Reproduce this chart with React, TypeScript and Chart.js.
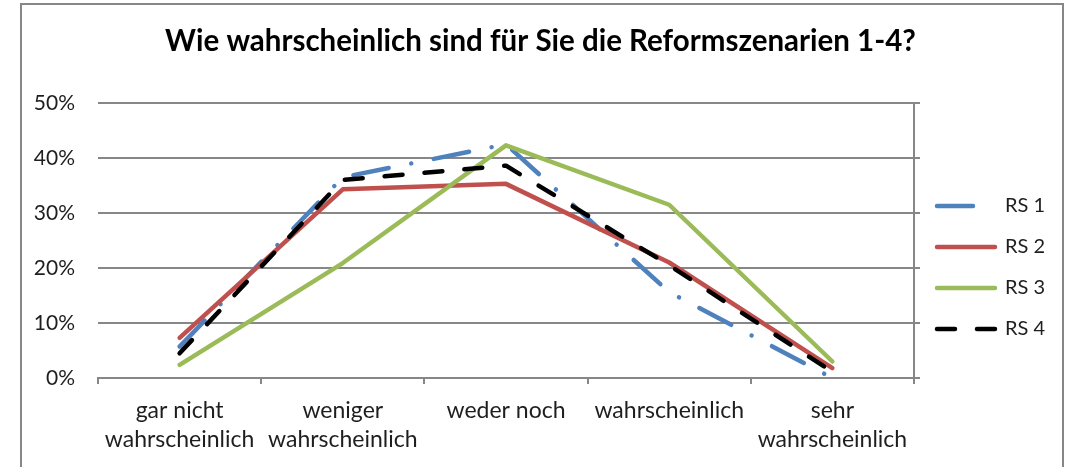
import React, { useEffect, useRef } from 'react';
import { Chart, registerables } from 'chart.js';

Chart.register(...registerables);

// ---- data ----
const categories: string[][] = [
  ['gar nicht', 'wahrscheinlich'],
  ['weniger', 'wahrscheinlich'],
  ['weder noch'],
  ['wahrscheinlich'],
  ['sehr', 'wahrscheinlich'],
];
const seriesNames = ['RS 1', 'RS 2', 'RS 3', 'RS 4'];
const rs1 = [0.057, 0.365, 0.425, 0.156, 0.0];
const rs2 = [0.073, 0.343, 0.353, 0.21, 0.018];
const rs3 = [0.024, 0.209, 0.423, 0.315, 0.03];
const rs4 = [0.045, 0.36, 0.386, 0.205, 0.011];
const yTickLabels = ['0%', '10%', '20%', '30%', '40%', '50%'];
const titleText = 'Wie wahrscheinlich sind für Sie die Reformszenarien 1-4?';

// ---- layout / style ----
const W = 1069;
const H = 467;
const PLOT_LEFT = 98;
const PLOT_RIGHT = 914;
const PLOT_BOTTOM = 378;
const GRID = '#878787';
const TEXT = '#1e1e1e';
const FONT = 'Lato, "Open Sans", sans-serif';

const seriesColors = ['#4F81BD', '#C0504D', '#9BBB59', '#000000'];
const seriesDash: number[][] = [[36, 23, 0.01, 23], [], [], [18, 22]];
const seriesOrder = [3, 2, 1, 0];

const placeBlocks = {
  id: 'placeBlocks',
  afterLayout(chart: any) {
    const lg = chart.legend;
    if (lg) {
      const w = lg.width;
      lg.left = 916;
      lg.right = 916 + w;
      lg.top = 175;
      lg.bottom = 175 + 200;
    }
    const tb = chart.titleBlock;
    if (tb) {
      tb.left += 6;
      tb.right += 6;
    }
  },
};

export default function App() {
  const ref = useRef<HTMLCanvasElement | null>(null);

  useEffect(() => {
    if (!ref.current) return;
    Chart.defaults.font.family = FONT;
    const values = [rs1, rs2, rs3, rs4];
    const chart = new Chart(ref.current, {
      type: 'line',
      data: {
        labels: categories,
        datasets: seriesNames.map((name, i) => ({
          label: name,
          data: values[i],
          borderColor: seriesColors[i],
          backgroundColor: seriesColors[i],
          borderWidth: 4.5,
          borderDash: seriesDash[i],
          borderCapStyle: 'round',
          borderJoinStyle: 'round',
          pointRadius: 0,
          pointHoverRadius: 0,
          tension: 0,
          fill: false,
          order: seriesOrder[i],
        })),
      },
      plugins: [placeBlocks],
      options: {
        animation: false,
        responsive: false,
        devicePixelRatio: 1,
        layout: { padding: 0 },
        plugins: {
          tooltip: { enabled: false },
          title: {
            display: true,
            text: titleText,
            color: '#000',
            font: { family: FONT, size: 29.5, weight: 'bold', lineHeight: 1.2 },
            padding: { top: 24, bottom: 43.6 },
          },
          legend: {
            display: true,
            position: 'right',
            align: 'start',
            labels: {
              color: TEXT,
              font: { family: FONT, size: 20 },
              usePointStyle: true,
              pointStyle: 'line',
              pointStyleWidth: 58,
              padding: 21,
              sort: (a: any, b: any) => a.datasetIndex - b.datasetIndex,
              generateLabels: (chart: any) => {
                const base = (Chart.defaults.plugins.legend.labels as any).generateLabels(chart);
                return base.map((item: any) => {
                  const i = item.datasetIndex;
                  return {
                    ...item,
                    pointStyle: 'line',
                    strokeStyle: seriesColors[i],
                    fillStyle: seriesColors[i],
                    lineWidth: 4.5,
                    lineDash: seriesDash[i],
                    lineCap: 'round',
                  };
                });
              },
            },
          },
        },
        scales: {
          x: {
            type: 'category',
            offset: true,
            grid: {
              offset: true,
              drawOnChartArea: false,
              drawTicks: true,
              tickLength: 6,
              color: GRID,
              lineWidth: 2,
            },
            border: { display: true, color: GRID, width: 2 },
            ticks: {
              color: TEXT,
              font: { family: FONT, size: 23, lineHeight: '29px' },
              padding: 12.5,
              maxRotation: 0,
              autoSkip: false,
            },
            afterFit: (s: any) => {
              s.height = H - PLOT_BOTTOM;
            },
          },
          y: {
            type: 'linear',
            min: 0,
            max: 0.5,
            ticks: {
              stepSize: 0.1,
              color: TEXT,
              font: { family: FONT, size: 21 },
              padding: 23,
              callback: (_v: any, i: number) => yTickLabels[i],
            },
            grid: { color: GRID, lineWidth: 2, drawTicks: false },
            border: { display: false },
            afterFit: (s: any) => {
              s.width = PLOT_LEFT;
            },
          },
          y2: {
            type: 'linear',
            position: 'right',
            min: 0,
            max: 0.5,
            ticks: { stepSize: 0.1, display: false },
            grid: {
              drawOnChartArea: false,
              drawTicks: true,
              tickLength: 6,
              color: GRID,
              lineWidth: 2,
            },
            border: { display: true, color: GRID, width: 2 },
            afterFit: (s: any) => {
              const lw = s.chart.legend ? s.chart.legend.width : 0;
              s.width = Math.max(W - PLOT_RIGHT - lw, 0);
            },
          },
        },
      } as any,
    });
    return () => chart.destroy();
  }, []);

  return (
    <div style={{ position: 'fixed', left: 0, top: 0, width: W, height: H, background: '#fff', overflow: 'hidden' }}>
      <canvas ref={ref} width={W} height={H} style={{ position: 'absolute', left: 0, top: 0, width: W, height: H }} />
      <div
        style={{
          position: 'absolute',
          left: 20,
          top: 3,
          width: 1044,
          height: 520,
          boxSizing: 'border-box',
          border: '2px solid #878787',
          pointerEvents: 'none',
        }}
      />
    </div>
  );
}
